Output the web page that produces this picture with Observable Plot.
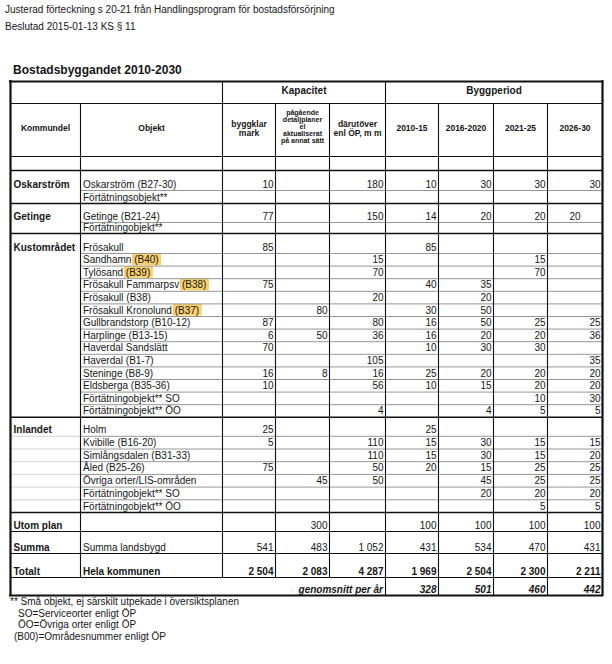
<!DOCTYPE html>
<html><head><meta charset="utf-8">
<script src="https://cdn.jsdelivr.net/npm/d3@7"></script>
<script src="https://cdn.jsdelivr.net/npm/@observablehq/plot@0.6"></script>
<style>
html,body{margin:0;padding:0;background:#fff;}
body{width:612px;height:664px;position:relative;overflow:hidden;font-family:"Liberation Sans",Arial,sans-serif;color:#161616;}
.t{position:absolute;white-space:nowrap;font-size:10px;line-height:12px;}
#chart{position:absolute;left:0;top:78px;}
</style></head><body>
<div class="t" style="left:5px;top:4px">Justerad förteckning s 20-21 från Handlingsprogram för bostadsförsörjning</div>
<div class="t" style="left:5px;top:21px">Beslutad 2015-01-13 KS § 11</div>
<div class="t" style="left:13px;top:63px;font-size:12px;line-height:14px;font-weight:bold">Bostadsbyggandet 2010-2030</div>
<div id="chart"></div>
<div class="t" style="left:10px;top:596px;line-height:11.5px">** Små objekt, ej särskilt utpekade i översiktsplanen</div>
<div class="t" style="left:18px;top:607.5px;line-height:11.5px">SO=Serviceorter enligt ÖP</div>
<div class="t" style="left:18px;top:619px;line-height:11.5px">ÖO=Övriga orter enligt ÖP</div>
<div class="t" style="left:14px;top:630.5px;line-height:11.5px">(B00)=Områdesnummer enligt ÖP</div>
<script>
// ---------- DATA ----------
const headerGroups = ["Kapacitet", "Byggperiod"];
const columnHeaders = ["Kommundel", "Objekt", "byggklar\nmark",
  "pågående\ndetaljplaner\nel\naktualiserat\npå annat sätt",
  "därutöver\nenl ÖP, m m", "2010-15", "2016-2020", "2021-25", "2026-30"];
const kommundel = ["Oskarström", "", "Getinge", "", "Kustområdet", "", "", "", "", "", "", "", "", "", "", "", "", "",
  "Inlandet", "", "", "", "", "", "", "Utom plan", "Summa", "Totalt"];
const objekt = ["Oskarström (B27-30)", "Förtätningsobjekt**", "Getinge (B21-24)", "Förtätningobjekt**",
  "Frösakull", "Sandhamn (B40)", "Tylösand (B39)", "Frösakull Fammarpsv (B38)", "Frösakull (B38)",
  "Frösakull Kronolund (B37)", "Gullbrandstorp (B10-12)", "Harplinge (B13-15)", "Haverdal Sandslätt",
  "Haverdal (B1-7)", "Steninge (B8-9)", "Eldsberga (B35-36)", "Förtätningobjekt** SO", "Förtätningobjekt** ÖO",
  "Holm", "Kvibille (B16-20)", "Simlångsdalen (B31-33)", "Åled (B25-26)", "Övriga orter/LIS-områden",
  "Förtätningobjekt** SO", "Förtätningobjekt** ÖO", "", "Summa landsbygd", "Hela kommunen"];
const highlighted = ["Sandhamn (B40)", "Tylösand (B39)", "Frösakull Fammarpsv (B38)", "Frösakull Kronolund (B37)"];
const _ = null;
const byggklar  = [10,_,77,_,85,_,_,75,_,_,87,6,70,_,16,10,_,_,25,5,_,75,_,_,_,_,541,2504];
const pagaende  = [_,_,_,_,_,_,_,_,_,80,_,50,_,_,8,_,_,_,_,_,_,_,45,_,_,300,483,2083];
const darutover = [180,_,150,_,_,15,70,_,20,_,80,36,_,105,16,56,_,4,_,110,110,50,50,_,_,_,1052,4287];
const p2010_15  = [10,_,14,_,85,_,_,40,_,30,16,16,10,_,25,10,_,_,25,15,15,20,_,_,_,100,431,1969];
const p2016_20  = [30,_,20,_,_,_,_,35,20,50,50,20,30,_,20,15,_,4,_,30,30,15,45,20,_,100,534,2504];
const p2021_25  = [30,_,20,_,_,15,70,_,_,_,25,20,30,_,20,20,10,5,_,15,15,25,25,20,5,100,470,2300];
const p2026_30  = [30,_,20,_,_,_,_,_,_,_,25,36,_,35,20,20,30,5,_,15,20,25,25,20,5,100,431,2211];
const genomsnittLabel = "genomsnitt per år";
const genomsnitt = [328, 501, 460, 442];

// ---------- LAYOUT ----------
const colEdges = [10, 80, 222, 275, 329, 385, 438, 493, 547, 602];
const svgTop = 78, tableTop = 81;
const rowHeights = [22, 53, 14, 20, 13, 19, 11, 20,
  12.6, 12.6, 12.6, 12.6, 12.6, 12.6, 12.6, 12.6, 12.6, 12.6, 12.6, 12.6, 12.6,
  19, 12.7, 12.7, 12.7, 12.7, 12.7, 12.7, 19, 22, 24, 18];
const rowEdges = [tableTop];
rowHeights.forEach(h => rowEdges.push(rowEdges[rowEdges.length - 1] + h));
const bodyStart = 3;
const font = "Liberation Sans, Arial, sans-serif";
const ink = "#161616";

// grid index -> pixel (piecewise linear layout), pixel -> grid index
const gx = d3.scaleLinear().domain(d3.range(colEdges.length)).range(colEdges);
const gy = d3.scaleLinear().domain(d3.range(rowEdges.length)).range(rowEdges.map(e => e - svgTop));
const fmt = d3.formatLocale({decimal: ",", thousands: "\u00a0", grouping: [3], currency: ["", " kr"]}).format(",d");
const P = d => ({...d, x: d.x != null ? gx(d.x) : undefined, x1: d.x1 != null ? gx(d.x1) : undefined,
  x2: d.x2 != null ? gx(d.x2) : undefined, y: d.y != null ? gy(d.y) : undefined,
  y1: d.y1 != null ? gy(d.y1) : undefined, y2: d.y2 != null ? gy(d.y2) : undefined});
const midX = (a, b) => gx.invert((colEdges[a] + colEdges[b]) / 2);

// ---------- DERIVED ----------
const columns = [byggklar, pagaende, darutover, p2010_15, p2016_20, p2021_25, p2026_30];
const cells = [];
columns.forEach((col, j) => col.forEach((v, r) => {
  if (v == null) return;
  const centered = objekt[r] === "Getinge (B21-24)" && j === 6;
  cells.push({x: centered ? 2 + j + 0.5 : 2 + j + 1, y: bodyStart + r + 1, t: fmt(v),
    bold: r === objekt.length - 1, centered});
}));
const avgCells = genomsnitt.map((v, k) => ({x: 6 + k, y: 32, t: fmt(v)}));

const groupOf = [];
let g = "";
kommundel.forEach(k => { if (k) g = k; groupOf.push(g); });

const hFull = [], hInner = [], hFaint = [];
for (let e = 1; e <= 31; e++) {
  const r = e - bodyStart;
  if (e <= 3 || e >= 29) hFull.push({y: e, x1: 0, x2: 9, w: e === 3 ? 1.5 : 1.1});
  else if (kommundel[r]) hFull.push({y: e, x1: 0, x2: 9, w: 1.5});
  else {
    hInner.push({y: e, x1: 1, x2: 9});
    if (groupOf[r] === "Inlandet") hFaint.push({y: e, x1: 0, x2: 1});
  }
}
const vLines = [
  {x: 1, y1: 1, y2: 31}, {x: 2, y1: 0, y2: 31}, {x: 3, y1: 1, y2: 31}, {x: 4, y1: 1, y2: 31},
  {x: 5, y1: 0, y2: 32}, {x: 6, y1: 1, y2: 32}, {x: 7, y1: 1, y2: 32}, {x: 8, y1: 1, y2: 32}
];
const borderH = [{y: 0, x1: 0, x2: 9}, {y: 32, x1: 0, x2: 9}];
const borderV = [{x: 0, y1: 0, y2: 32}, {x: 9, y1: 0, y2: 32}];

const ctx = document.createElement("canvas").getContext("2d");
ctx.font = "10px 'Liberation Sans', Arial, sans-serif";
const hl = highlighted.map(name => {
  const r = objekt.indexOf(name) + bodyStart;
  const i = name.lastIndexOf("(");
  const pre = ctx.measureText(name.slice(0, i)).width;
  const code = ctx.measureText(name.slice(i)).width;
  return {x1: gx.invert(colEdges[1] + 2.5 + pre - 1.5), x2: gx.invert(colEdges[1] + 2.5 + pre + code + 3), y1: r, y2: r + 1};
});

const groupHead = headerGroups.map((t, k) => ({t, x: k === 0 ? midX(2, 5) : midX(5, 9), y: 0.5}));
const colHead = columnHeaders.map((t, k) => ({t, x: k + 0.5, y: 1.5, small: k === 3}));
const kmd = kommundel.map((t, r) => ({t, x: 0, y: bodyStart + r + 1})).filter(d => d.t);
const obj = objekt.map((t, r) => ({t, x: 1, y: bodyStart + r + 1, bold: r === objekt.length - 1})).filter(d => d.t);

const txt = (data, o) => Plot.text(data.map(P), {x: "x", y: "y", text: "t", fill: ink, fontFamily: font, ...o});

const chart = Plot.plot({
  width: 612,
  height: 518,
  margin: 0,
  style: {fontFamily: font, background: "transparent", overflow: "visible"},
  x: {type: "identity", axis: null},
  y: {type: "identity", axis: null},
  marks: [
    Plot.rect(hl.map(P), {x1: "x1", x2: "x2", y1: "y1", y2: "y2", fill: "#f8cb5e", fillOpacity: 0.92, insetTop: 0.6, insetBottom: 0.4}),
    Plot.ruleY(hFaint.map(P), {y: "y", x1: "x1", x2: "x2", stroke: "#c8c8c8", strokeWidth: 0.8}),
    Plot.ruleY(hInner.map(P), {y: "y", x1: "x1", x2: "x2", stroke: "#8a8a8a", strokeWidth: 0.9}),
    Plot.ruleY(hFull.map(P), {y: "y", x1: "x1", x2: "x2", stroke: "#111", strokeWidth: "w"}),
    Plot.ruleX(vLines.map(P), {x: "x", y1: "y1", y2: "y2", stroke: "#111", strokeWidth: 1.1}),
    Plot.ruleY(borderH.map(P), {y: "y", x1: "x1", x2: "x2", stroke: "#111", strokeWidth: 2.2, strokeLinecap: "square"}),
    Plot.ruleX(borderV.map(P), {x: "x", y1: "y1", y2: "y2", stroke: "#111", strokeWidth: 2.2, strokeLinecap: "square"}),
    txt(groupHead, {fontSize: 10, fontWeight: "bold", dy: -2}),
    txt(colHead.filter(d => !d.small), {fontSize: 8.5, fontWeight: "bold", lineHeight: 1.08, dy: -1.5}),
    txt(colHead.filter(d => d.small), {fontSize: 7, fontWeight: "bold", lineHeight: 0.98, dy: -3}),
    txt(kmd, {fontSize: 10, fontWeight: "bold", textAnchor: "start", lineAnchor: "bottom", dx: 3, dy: -3}),
    txt(obj.filter(d => !d.bold), {fontSize: 10, textAnchor: "start", lineAnchor: "bottom", dx: 2.5, dy: -3}),
    txt(obj.filter(d => d.bold), {fontSize: 10, fontWeight: "bold", textAnchor: "start", lineAnchor: "bottom", dx: 2.5, dy: -3}),
    txt(cells.filter(d => !d.bold && !d.centered), {fontSize: 10, textAnchor: "end", lineAnchor: "bottom", dx: -2, dy: -3}),
    txt(cells.filter(d => d.centered), {fontSize: 10, textAnchor: "middle", lineAnchor: "bottom", dy: -3}),
    txt(cells.filter(d => d.bold), {fontSize: 10, fontWeight: "bold", textAnchor: "end", lineAnchor: "bottom", dx: -2, dy: -3}),
    txt([{t: genomsnittLabel, x: 5, y: 32}], {fontSize: 10, fontWeight: "bold", fontStyle: "italic", textAnchor: "end", lineAnchor: "bottom", dx: -2.5, dy: -3}),
    txt(avgCells, {fontSize: 10, fontWeight: "bold", fontStyle: "italic", textAnchor: "end", lineAnchor: "bottom", dx: -2, dy: -3})
  ]
});
document.getElementById("chart").append(chart);
</script>
</body></html>
